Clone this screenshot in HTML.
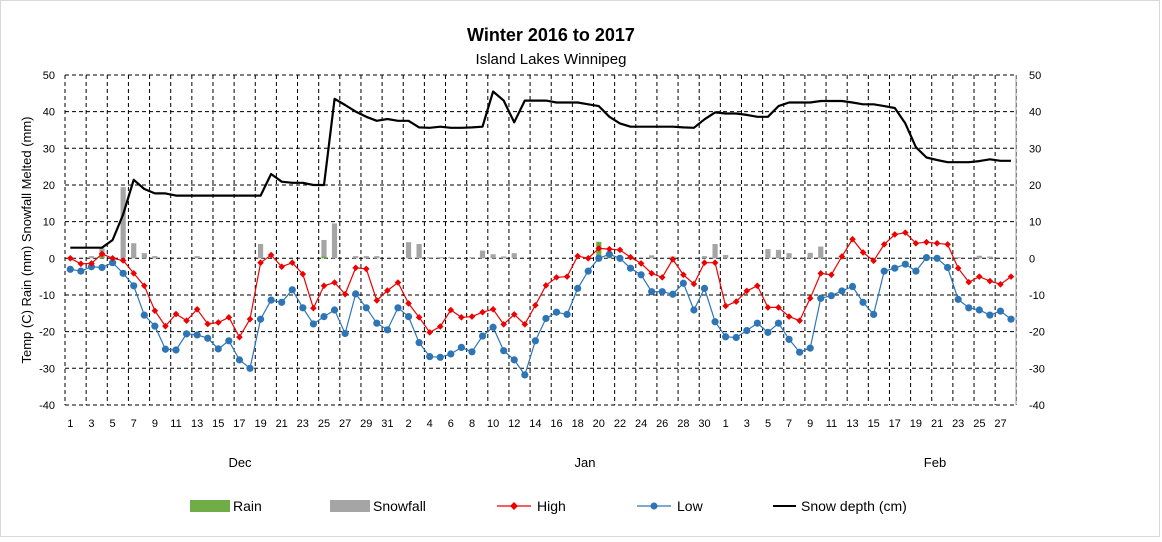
<!DOCTYPE html>
<html><head><meta charset="utf-8"><style>
body{margin:0;background:#fff}
svg text{font-family:"Liberation Sans",Arial,sans-serif;fill:#000}
</style></head><body>
<svg id="s" width="1162" height="537" xmlns="http://www.w3.org/2000/svg">
<rect x="0.5" y="0.5" width="1159" height="536" fill="#fff" stroke="#d9d9d9"/>
<text x="551" y="41" font-size="18" font-weight="bold" text-anchor="middle" fill="#262626">Winter 2016 to 2017</text>
<text x="551" y="64" font-size="15" text-anchor="middle">Island Lakes Winnipeg</text>
<g id="grid"></g>
<g id="bars"></g>
<g id="lines"></g>
<text transform="translate(31,240) rotate(-90)" font-size="13" text-anchor="middle">Temp (C) Rain (mm) Snowfall Melted (mm)</text>
<g font-size="11" text-anchor="end">
<text x="55" y="79">50</text><text x="55" y="115.7">40</text><text x="55" y="152.3">30</text><text x="55" y="189">20</text><text x="55" y="225.7">10</text><text x="55" y="262.3">0</text><text x="55" y="299">-10</text><text x="55" y="335.7">-20</text><text x="55" y="372.3">-30</text><text x="55" y="409">-40</text>
</g>
<g font-size="11" text-anchor="start">
<text x="1029" y="79">50</text><text x="1029" y="115.7">40</text><text x="1029" y="152.3">30</text><text x="1029" y="189">20</text><text x="1029" y="225.7">10</text><text x="1029" y="262.3">0</text><text x="1029" y="299">-10</text><text x="1029" y="335.7">-20</text><text x="1029" y="372.3">-30</text><text x="1029" y="409">-40</text>
</g>
<g font-size="11" text-anchor="middle">
<text x="70.3" y="427">1</text><text x="91.4" y="427">3</text><text x="112.6" y="427">5</text><text x="133.7" y="427">7</text><text x="154.9" y="427">9</text><text x="176" y="427">11</text><text x="197.1" y="427">13</text><text x="218.3" y="427">15</text><text x="239.4" y="427">17</text><text x="260.6" y="427">19</text><text x="281.7" y="427">21</text><text x="302.8" y="427">23</text><text x="324" y="427">25</text><text x="345.1" y="427">27</text><text x="366.3" y="427">29</text><text x="387.4" y="427">31</text>
<text x="408.6" y="427">2</text><text x="429.7" y="427">4</text><text x="450.8" y="427">6</text><text x="472" y="427">8</text><text x="493.1" y="427">10</text><text x="514.3" y="427">12</text><text x="535.4" y="427">14</text><text x="556.5" y="427">16</text><text x="577.7" y="427">18</text><text x="598.8" y="427">20</text><text x="620" y="427">22</text><text x="641.1" y="427">24</text><text x="662.2" y="427">26</text><text x="683.4" y="427">28</text><text x="704.5" y="427">30</text>
<text x="725.7" y="427">1</text><text x="746.8" y="427">3</text><text x="768" y="427">5</text><text x="789.1" y="427">7</text><text x="810.2" y="427">9</text><text x="831.4" y="427">11</text><text x="852.5" y="427">13</text><text x="873.7" y="427">15</text><text x="894.8" y="427">17</text><text x="915.9" y="427">19</text><text x="937.1" y="427">21</text><text x="958.2" y="427">23</text><text x="979.4" y="427">25</text><text x="1000.5" y="427">27</text>
</g>
<g font-size="13" text-anchor="middle">
<text x="240" y="467">Dec</text><text x="585" y="467">Jan</text><text x="935" y="467">Feb</text>
</g>
<g font-size="14">
<rect x="190" y="500" width="40" height="12" fill="#70ad47"/><text x="233" y="511">Rain</text>
<rect x="330" y="500" width="40" height="12" fill="#a5a5a5"/><text x="373" y="511">Snowfall</text>
<line x1="497" y1="506" x2="531" y2="506" stroke="#e00" stroke-width="1.2"/><path d="M514 502 L518 506 L514 510 L510 506Z" fill="#e00"/><text x="537" y="511">High</text>
<line x1="637" y1="506" x2="671" y2="506" stroke="#2e75b6" stroke-width="1.2"/><circle cx="654" cy="506" r="3.5" fill="#2e75b6"/><text x="677" y="511">Low</text>
<line x1="773" y1="506" x2="796" y2="506" stroke="#000" stroke-width="2"/><text x="801" y="511">Snow depth (cm)</text>
</g>
</svg>
<script>
const NS="http://www.w3.org/2000/svg";
const X=i=>70.3+10.57*i, Y=v=>258.3-v*3.667;
function el(p,t,a){const e=document.createElementNS(NS,t);for(const k in a)e.setAttribute(k,a[k]);document.getElementById(p).appendChild(e);return e;}
// grid
for(let v=-30;v<=50;v+=10){if(v===0)continue;el('grid','line',{x1:65,x2:1016,y1:Y(v),y2:Y(v),stroke:'#000','stroke-dasharray':'4,3','stroke-width':1});}
for(let k=0;k<=45;k++){const x=65+k*21.14;if(x>1016.5)break;el('grid','line',{x1:x,x2:x,y1:75,y2:405,stroke:'#000','stroke-dasharray':'4,3','stroke-width':1});}
el('grid','line',{x1:65,x2:1016,y1:405,y2:405,stroke:'#000','stroke-dasharray':'4,3'});
el('grid','line',{x1:65,x2:1016,y1:Y(0),y2:Y(0),stroke:'#000','stroke-dasharray':'4,3'});
el('grid','line',{x1:1016,x2:1016,y1:75,y2:405,stroke:'#999'});
const high=[0,-1.5,-1.4,1.2,0,-0.6,-4.1,-7.5,-14.3,-18.5,-15.2,-17,-13.9,-17.9,-17.5,-16.1,-21.5,-16.6,-1.2,0.9,-2.3,-1.2,-4.3,-13.6,-7.5,-6.6,-9.8,-2.6,-2.9,-11.5,-8.8,
-6.6,-12.3,-16.1,-20.2,-18.6,-14.1,-16.1,-15.9,-14.7,-13.9,-18,-15.3,-18,-12.8,-7.4,-5.2,-5,0.6,0,2.7,2.5,2.3,0.3,-1.4,-4.1,-5.2,-0.3,-4.5,-7,-1.2,-1.2,
-13,-11.8,-8.9,-7.5,-13.4,-13.4,-15.9,-17,-10.9,-4.1,-4.5,0.5,5.2,1.6,-0.7,3.8,6.5,7,4.1,4.4,4.1,3.8,-2.7,-6.5,-5,-6.2,-7.1,-5];
const low=[-3,-3.5,-2.3,-2.5,-1.2,-4.1,-7.5,-15.5,-18.5,-24.8,-25,-20.6,-20.9,-21.8,-24.7,-22.5,-27.7,-30,-16.6,-11.4,-12,-8.6,-13.5,-17.9,-15.9,-14.1,-20.5,-9.7,-13.5,-17.7,-19.5,
-13.5,-15.9,-23,-26.8,-27,-26.1,-24.3,-25.5,-21.2,-18.8,-25.2,-27.7,-31.8,-22.5,-16.4,-14.7,-15.3,-8.2,-3.5,0,1.1,0,-2.7,-4.5,-9.1,-9.1,-9.8,-6.8,-14.1,-8.2,-17.3,
-21.4,-21.6,-19.7,-17.7,-20.2,-17.7,-22.1,-25.6,-24.5,-10.9,-10.2,-8.9,-7.7,-12,-15.3,-3.5,-2.7,-1.6,-3.5,0.2,0,-2.5,-11.2,-13.5,-14.1,-15.5,-14.4,-16.6];
const depth=[2.9,2.9,2.9,2.9,5,12,21.4,18.9,17.7,17.7,17.1,17.1,17.1,17.1,17.1,17.1,17.1,17.1,17.1,23,20.9,20.6,20.6,20,20,43.5,41.8,40,38.6,37.5,38,
37.5,37.5,35.7,35.6,35.9,35.6,35.6,35.7,35.9,45.5,43,37.1,43,43,43,42.5,42.5,42.5,42,41.5,38.6,36.8,35.9,35.9,35.9,35.9,35.9,35.7,35.6,37.9,39.8,
39.5,39.5,39.1,38.6,38.6,41.5,42.5,42.5,42.5,42.9,42.9,42.9,42.5,42,42,41.5,41,36.8,30.3,27.5,26.8,26.2,26.2,26.2,26.5,27,26.6,26.6];
const snow={2:0.6,3:2.7,5:19.4,6:4.1,7:1.4,8:0.6,12:0.6,18:3.9,24:5,25:9.5,27:0.6,28:0.6,29:0.6,32:4.4,33:3.9,34:0.3,35:0.3,36:0.3,38:0.3,39:2.1,40:1.1,41:0.5,42:1.4,53:0.5,55:0.8,57:0.5,60:0.6,61:3.9,62:0.9,66:2.5,67:2.3,68:1.4,70:1.5,71:3.2,84:0.3,86:0.7,87:0.5};
const rain={3:0.6,24:0.5,50:4.5,51:0.5,81:0.5};
for(const i in snow){el('bars','rect',{x:X(+i)-2.6,y:Y(snow[i]),width:5.2,height:snow[i]*3.667,fill:'#a5a5a5'});}
for(const i in rain){el('bars','rect',{x:X(+i)-2.6,y:Y(rain[i]),width:5.2,height:rain[i]*3.667,fill:'#70ad47'});}
const pts=a=>a.map((v,i)=>X(i).toFixed(1)+','+Y(v).toFixed(1)).join(' ');
el('lines','polyline',{points:pts(depth),fill:'none',stroke:'#000','stroke-width':2.2,'stroke-linejoin':'round'});
el('lines','polyline',{points:pts(low),fill:'none',stroke:'#2e75b6','stroke-width':1.2});
low.forEach((v,i)=>el('lines','circle',{cx:X(i),cy:Y(v),r:3.6,fill:'#2e75b6'}));
el('lines','polyline',{points:pts(high),fill:'none',stroke:'#e00','stroke-width':1.2});
high.forEach((v,i)=>{const x=X(i),y=Y(v);el('lines','path',{d:`M${x} ${y-3.3}L${x+3.3} ${y}L${x} ${y+3.3}L${x-3.3} ${y}Z`,fill:'#e00'});});
</script>
</body></html>
